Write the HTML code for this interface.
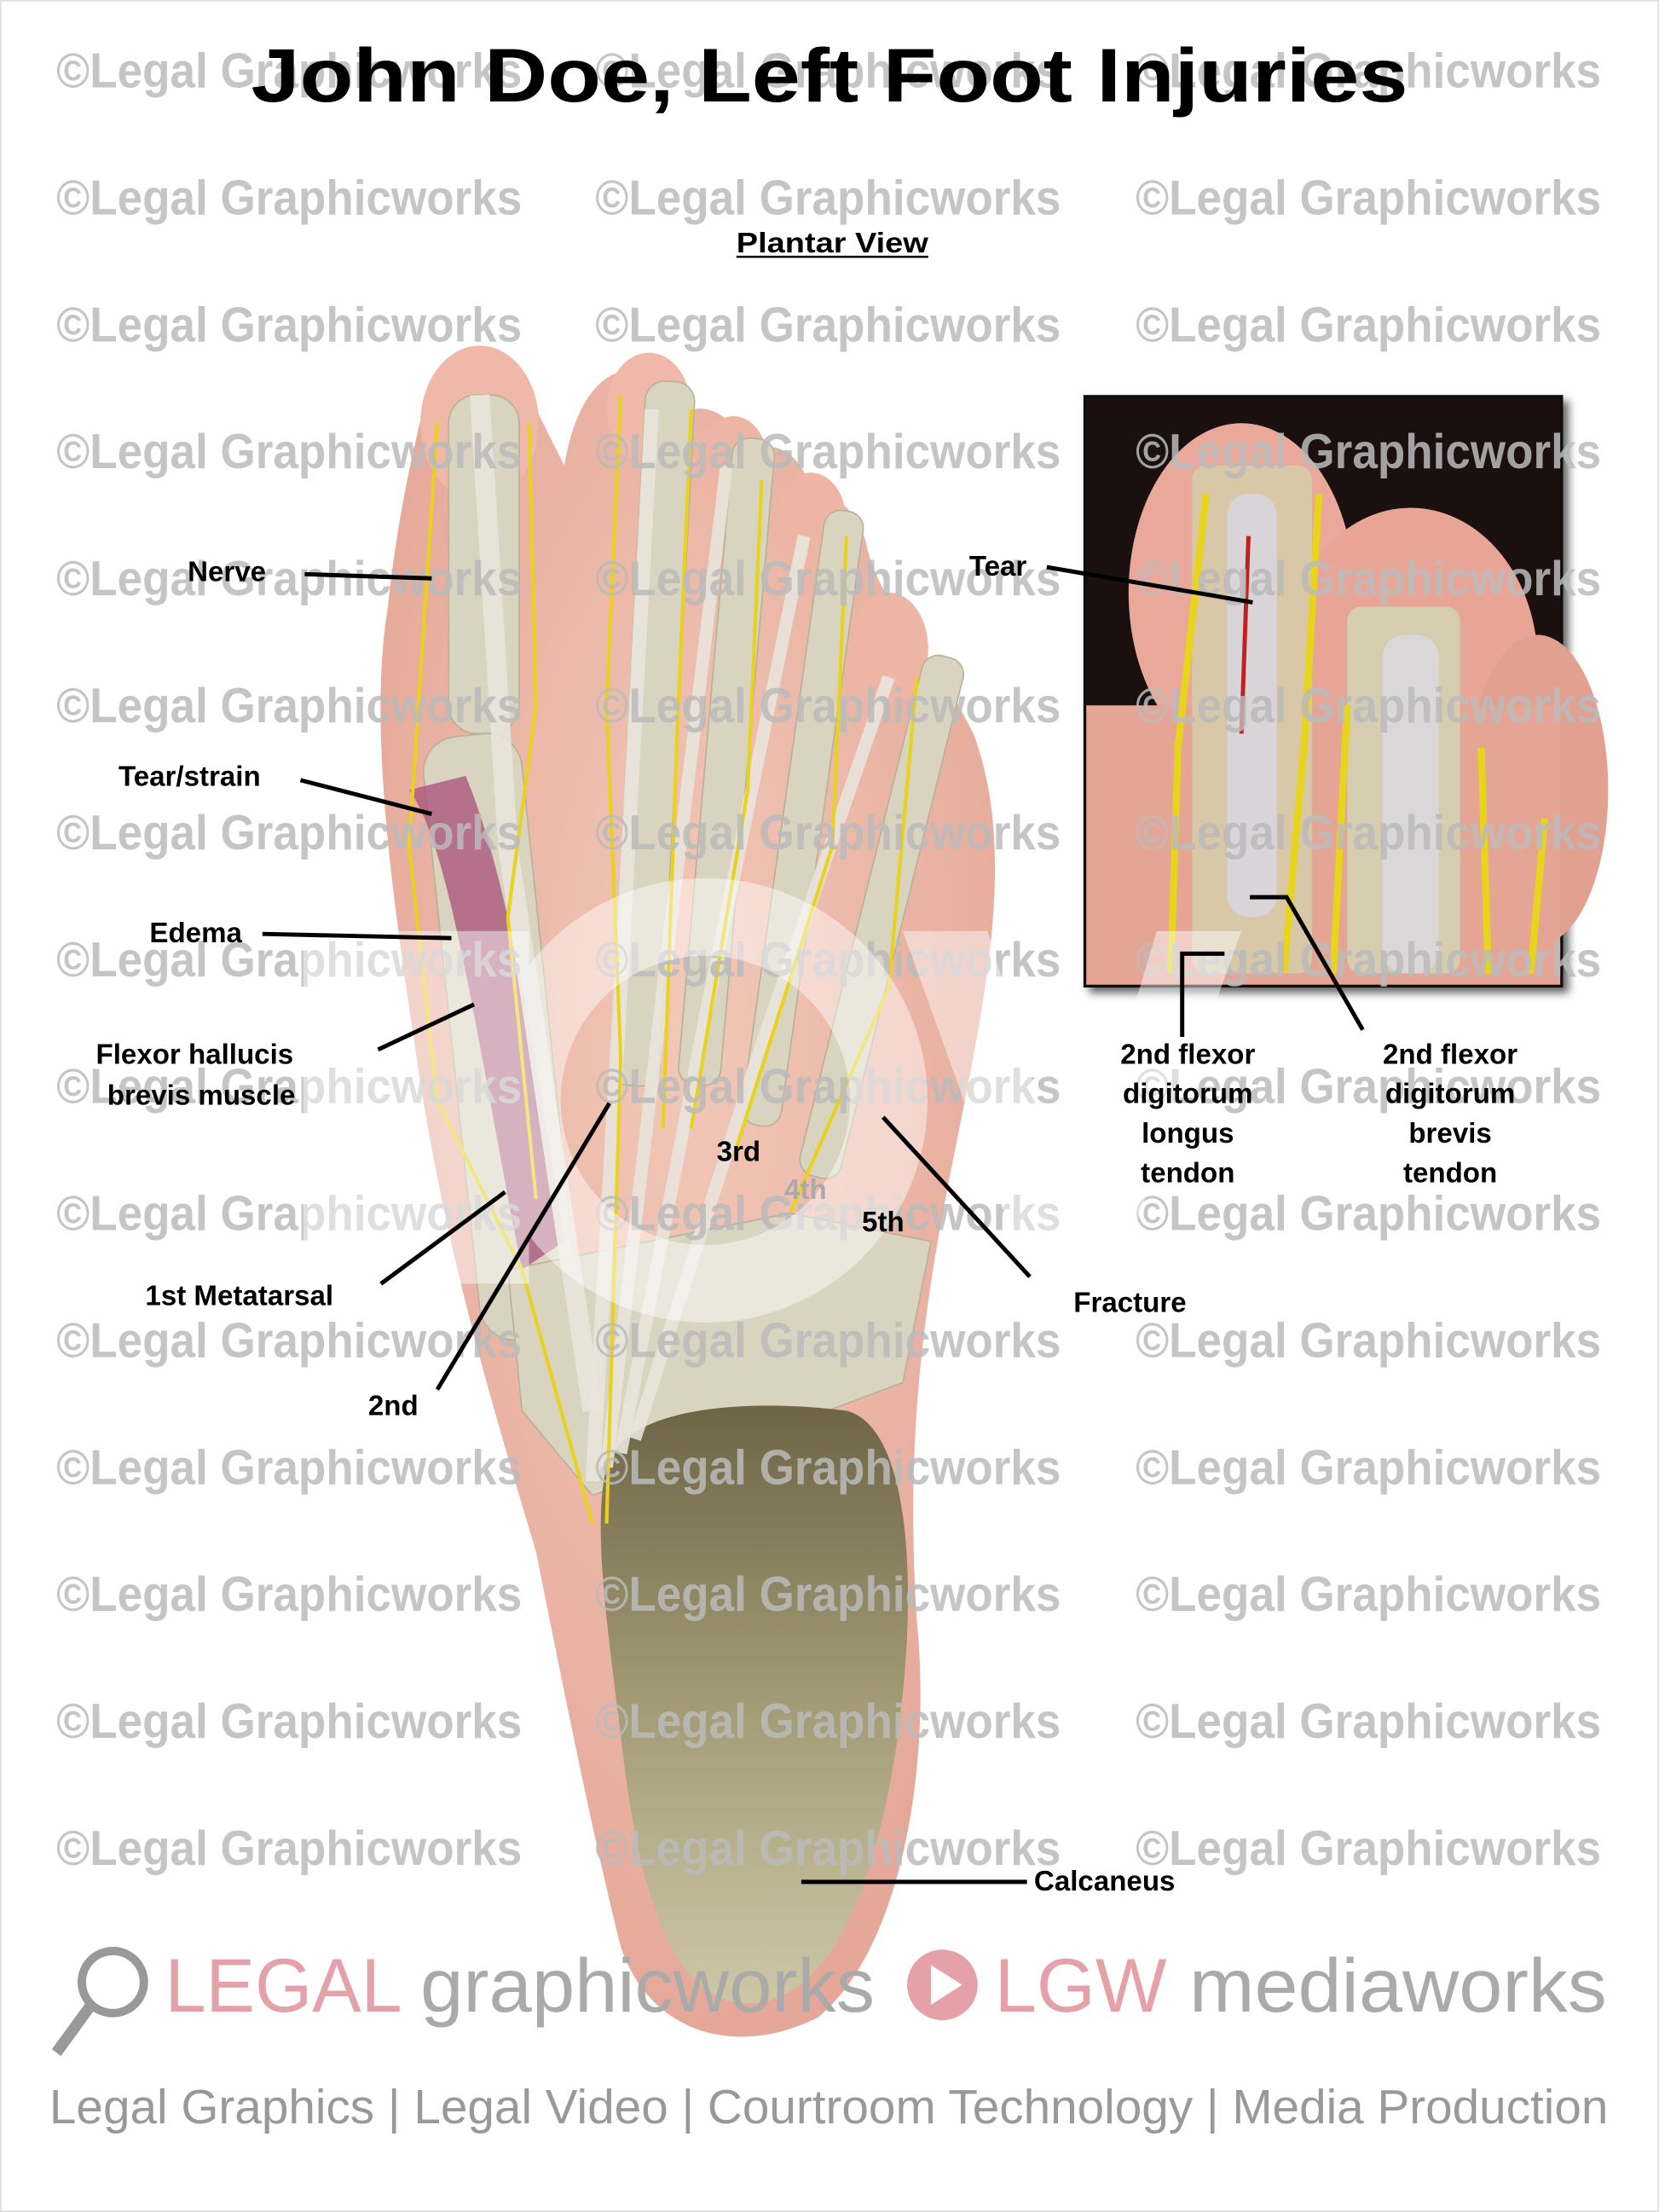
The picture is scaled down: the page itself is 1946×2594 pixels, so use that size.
<!DOCTYPE html>
<html><head><meta charset="utf-8"><style>
html,body{margin:0;padding:0;background:#fff;}
svg{display:block;}
</style></head><body>
<svg width="1946" height="2594" viewBox="0 0 1176 1568" preserveAspectRatio="none" xmlns="http://www.w3.org/2000/svg" font-family="Liberation Sans, sans-serif">
<defs>
<radialGradient id="skin" cx="50%" cy="40%" r="60%"><stop offset="0" stop-color="#f2c8b8"/><stop offset="1" stop-color="#e5a898"/></radialGradient>
<linearGradient id="calc" x1="0" y1="0" x2="0" y2="1"><stop offset="0" stop-color="#6e6546"/><stop offset="0.5" stop-color="#a39b75"/><stop offset="1" stop-color="#cdc7a6"/></linearGradient>
<filter id="sh"><feDropShadow dx="4" dy="4" stdDeviation="3" flood-opacity="0.6"/></filter>
</defs>
<rect width="1176" height="1568" fill="#fff"/>
<rect x="0.5" y="0.5" width="1175" height="1567" fill="none" stroke="#ddd"/>

<!-- foot -->
<path d="M300,290 C310,250 370,250 380,290 L400,330 C410,270 440,250 470,270 L480,300 C490,280 520,290 530,320 C545,310 570,320 575,350 C590,350 610,360 615,390 C630,440 660,460 690,520 C720,600 700,700 680,800 C660,900 640,1000 650,1150 C660,1250 640,1380 580,1430 C520,1460 460,1440 440,1380 C420,1300 400,1200 380,1100 C350,1000 320,900 300,780 C280,650 260,520 275,430 C280,380 290,330 300,290 Z" fill="url(#skin)"/>
<ellipse cx="340" cy="300" rx="42" ry="55" fill="#f0b8a8"/>
<ellipse cx="460" cy="290" rx="30" ry="40" fill="#f0b8a8"/>
<ellipse cx="520" cy="330" rx="25" ry="35" fill="#eeb5a5"/>
<ellipse cx="575" cy="370" rx="25" ry="35" fill="#eeb5a5"/>
<ellipse cx="630" cy="460" rx="28" ry="40" fill="#eeb5a5"/>
<!-- bones -->
<g fill="#d9d4bf" stroke="#b8b196" stroke-width="1">
<rect x="318" y="280" width="50" height="240" rx="20"/>
<rect x="445" y="270" width="35" height="500" rx="14" transform="rotate(3 462 520)"/>
<rect x="500" y="310" width="30" height="460" rx="12" transform="rotate(5 515 540)"/>
<rect x="555" y="360" width="28" height="440" rx="12" transform="rotate(8 569 580)"/>
<rect x="610" y="460" width="30" height="380" rx="12" transform="rotate(14 625 650)"/>
<rect x="320" y="520" width="70" height="430" rx="25" transform="rotate(-6 355 735)"/>
<path d="M360,900 L560,860 L660,880 L640,980 L560,1010 L420,1060 L370,1000 Z"/>
</g>
<path d="M430,1040 C440,1000 520,990 600,1000 C640,1010 650,1100 640,1200 C630,1300 600,1420 530,1420 C470,1420 450,1320 440,1230 C430,1150 420,1080 430,1040 Z" fill="url(#calc)"/>
<!-- muscles/tendons -->
<path d="M290,560 C320,600 340,750 370,900 L400,880 C380,750 360,620 330,550 Z" fill="#a8507a" opacity="0.75"/>
<path d="M340,280 L360,600 L420,1000" stroke="#e8e4dc" stroke-width="14" fill="none" opacity="0.9"/>
<path d="M462,290 L440,700 L420,1050" stroke="#e8e4dc" stroke-width="10" fill="none" opacity="0.9"/>
<path d="M515,330 L470,700 L430,1040" stroke="#e8e4dc" stroke-width="9" fill="none" opacity="0.9"/>
<path d="M570,380 L500,720 L440,1030" stroke="#e8e4dc" stroke-width="9" fill="none" opacity="0.9"/>
<path d="M630,480 L540,740 L450,1020" stroke="#e8e4dc" stroke-width="9" fill="none" opacity="0.9"/>
<!-- nerves -->
<g stroke="#e8d21c" stroke-width="2.5" fill="none">
<path d="M310,300 L300,450 L290,600 L310,780 L370,900 L420,1080"/>
<path d="M375,300 L380,500 L360,650 L380,850"/>
<path d="M440,280 L430,500 L440,750 L430,1080"/>
<path d="M490,290 L480,520 L470,800"/>
<path d="M540,340 L530,560 L490,800"/>
<path d="M600,380 L590,600 L520,820"/>
<path d="M650,480 L630,700 L560,860"/>
</g>

<!-- inset -->
<g filter="url(#sh)">
<rect x="768" y="280" width="340" height="420" fill="#111"/>
</g>
<rect x="770" y="282" width="336" height="416" fill="#1a1010"/>
<ellipse cx="880" cy="420" rx="80" ry="120" fill="#e9a899"/>
<ellipse cx="1000" cy="470" rx="90" ry="110" fill="#e8a596"/>
<ellipse cx="1090" cy="560" rx="50" ry="110" fill="#e2a090"/>
<rect x="770" y="500" width="336" height="198" fill="#e4a595"/>
<rect x="845" y="330" width="85" height="360" fill="#d8c8a8" rx="10"/>
<rect x="955" y="430" width="80" height="260" fill="#d6ccb0" rx="10"/>
<rect x="870" y="350" width="35" height="300" fill="#d9d4d8" rx="15"/>
<path d="M885,380 L880,520" stroke="#c02020" stroke-width="3"/>
<rect x="980" y="450" width="40" height="240" fill="#d9d7d8" rx="16"/>
<g stroke="#e8d41a" stroke-width="5" fill="none">
<path d="M855,350 L835,530 L830,690"/><path d="M935,350 L925,520 L910,690"/>
<path d="M955,500 L945,690"/><path d="M1050,530 L1055,690"/><path d="M1095,580 L1085,690"/>
</g>

<!-- watermark -->
<g font-size="35" fill="#bbbbbb" opacity="0.85" font-weight="bold" textLength="330" lengthAdjust="spacingAndGlyphs">
<text x="40" y="62" textLength="330" lengthAdjust="spacingAndGlyphs">©Legal Graphicworks</text><text x="422" y="62" textLength="330" lengthAdjust="spacingAndGlyphs">©Legal Graphicworks</text><text x="805" y="62" textLength="330" lengthAdjust="spacingAndGlyphs">©Legal Graphicworks</text>
<text x="40" y="152" textLength="330" lengthAdjust="spacingAndGlyphs">©Legal Graphicworks</text><text x="422" y="152" textLength="330" lengthAdjust="spacingAndGlyphs">©Legal Graphicworks</text><text x="805" y="152" textLength="330" lengthAdjust="spacingAndGlyphs">©Legal Graphicworks</text>
<text x="40" y="242" textLength="330" lengthAdjust="spacingAndGlyphs">©Legal Graphicworks</text><text x="422" y="242" textLength="330" lengthAdjust="spacingAndGlyphs">©Legal Graphicworks</text><text x="805" y="242" textLength="330" lengthAdjust="spacingAndGlyphs">©Legal Graphicworks</text>
<text x="40" y="332" textLength="330" lengthAdjust="spacingAndGlyphs">©Legal Graphicworks</text><text x="422" y="332" textLength="330" lengthAdjust="spacingAndGlyphs">©Legal Graphicworks</text><text x="805" y="332" textLength="330" lengthAdjust="spacingAndGlyphs">©Legal Graphicworks</text>
<text x="40" y="422" textLength="330" lengthAdjust="spacingAndGlyphs">©Legal Graphicworks</text><text x="422" y="422" textLength="330" lengthAdjust="spacingAndGlyphs">©Legal Graphicworks</text><text x="805" y="422" textLength="330" lengthAdjust="spacingAndGlyphs">©Legal Graphicworks</text>
<text x="40" y="512" textLength="330" lengthAdjust="spacingAndGlyphs">©Legal Graphicworks</text><text x="422" y="512" textLength="330" lengthAdjust="spacingAndGlyphs">©Legal Graphicworks</text><text x="805" y="512" textLength="330" lengthAdjust="spacingAndGlyphs">©Legal Graphicworks</text>
<text x="40" y="602" textLength="330" lengthAdjust="spacingAndGlyphs">©Legal Graphicworks</text><text x="422" y="602" textLength="330" lengthAdjust="spacingAndGlyphs">©Legal Graphicworks</text><text x="805" y="602" textLength="330" lengthAdjust="spacingAndGlyphs">©Legal Graphicworks</text>
<text x="40" y="692" textLength="330" lengthAdjust="spacingAndGlyphs">©Legal Graphicworks</text><text x="422" y="692" textLength="330" lengthAdjust="spacingAndGlyphs">©Legal Graphicworks</text><text x="805" y="692" textLength="330" lengthAdjust="spacingAndGlyphs">©Legal Graphicworks</text>
<text x="40" y="782" textLength="330" lengthAdjust="spacingAndGlyphs">©Legal Graphicworks</text><text x="422" y="782" textLength="330" lengthAdjust="spacingAndGlyphs">©Legal Graphicworks</text><text x="805" y="782" textLength="330" lengthAdjust="spacingAndGlyphs">©Legal Graphicworks</text>
<text x="40" y="872" textLength="330" lengthAdjust="spacingAndGlyphs">©Legal Graphicworks</text><text x="422" y="872" textLength="330" lengthAdjust="spacingAndGlyphs">©Legal Graphicworks</text><text x="805" y="872" textLength="330" lengthAdjust="spacingAndGlyphs">©Legal Graphicworks</text>
<text x="40" y="962" textLength="330" lengthAdjust="spacingAndGlyphs">©Legal Graphicworks</text><text x="422" y="962" textLength="330" lengthAdjust="spacingAndGlyphs">©Legal Graphicworks</text><text x="805" y="962" textLength="330" lengthAdjust="spacingAndGlyphs">©Legal Graphicworks</text>
<text x="40" y="1052" textLength="330" lengthAdjust="spacingAndGlyphs">©Legal Graphicworks</text><text x="422" y="1052" textLength="330" lengthAdjust="spacingAndGlyphs">©Legal Graphicworks</text><text x="805" y="1052" textLength="330" lengthAdjust="spacingAndGlyphs">©Legal Graphicworks</text>
<text x="40" y="1142" textLength="330" lengthAdjust="spacingAndGlyphs">©Legal Graphicworks</text><text x="422" y="1142" textLength="330" lengthAdjust="spacingAndGlyphs">©Legal Graphicworks</text><text x="805" y="1142" textLength="330" lengthAdjust="spacingAndGlyphs">©Legal Graphicworks</text>
<text x="40" y="1232" textLength="330" lengthAdjust="spacingAndGlyphs">©Legal Graphicworks</text><text x="422" y="1232" textLength="330" lengthAdjust="spacingAndGlyphs">©Legal Graphicworks</text><text x="805" y="1232" textLength="330" lengthAdjust="spacingAndGlyphs">©Legal Graphicworks</text>
<text x="40" y="1322" textLength="330" lengthAdjust="spacingAndGlyphs">©Legal Graphicworks</text><text x="422" y="1322" textLength="330" lengthAdjust="spacingAndGlyphs">©Legal Graphicworks</text><text x="805" y="1322" textLength="330" lengthAdjust="spacingAndGlyphs">©Legal Graphicworks</text>
</g>
<!-- big LGW watermark -->
<g fill="#fff" opacity="0.45">
<rect x="215" y="660" width="160" height="250"/>
<circle cx="500" cy="780" r="130" fill="none" stroke="#fff" stroke-width="55"/>
<path d="M640,660 L700,660 L760,860 L820,660 L880,660 L790,910 L730,910 Z"/>
</g>

<!-- title -->
<text x="178" y="72" font-size="54" font-weight="bold" fill="#000" textLength="820" lengthAdjust="spacingAndGlyphs">John Doe, Left Foot Injuries</text>
<text x="522" y="179" font-size="20" font-weight="bold" fill="#000" textLength="136" lengthAdjust="spacingAndGlyphs">Plantar View</text>
<line x1="522" y1="182" x2="658" y2="182" stroke="#000" stroke-width="1.5"/>

<!-- labels -->
<g font-size="20" font-weight="bold" fill="#000">
<text x="133" y="412">Nerve</text>
<text x="84" y="557">Tear/strain</text>
<text x="106" y="668">Edema</text>
<text x="68" y="754">Flexor hallucis</text>
<text x="76" y="783">brevis muscle</text>
<text x="103" y="925">1st Metatarsal</text>
<text x="261" y="1003">2nd</text>
<text x="508" y="823">3rd</text>
<text x="556" y="850" fill="#aaa">4th</text>
<text x="611" y="873">5th</text>
<text x="687" y="408">Tear</text>
<text x="761" y="930">Fracture</text>
<text x="733" y="1340">Calcaneus</text>
<text x="842" y="754" text-anchor="middle">2nd flexor</text>
<text x="842" y="782" text-anchor="middle">digitorum</text>
<text x="842" y="810" text-anchor="middle">longus</text>
<text x="842" y="838" text-anchor="middle">tendon</text>
<text x="1028" y="754" text-anchor="middle">2nd flexor</text>
<text x="1028" y="782" text-anchor="middle">digitorum</text>
<text x="1028" y="810" text-anchor="middle">brevis</text>
<text x="1028" y="838" text-anchor="middle">tendon</text>
</g>
<g stroke="#000" stroke-width="3" fill="none">
<line x1="216" y1="407" x2="306" y2="410"/>
<line x1="213" y1="553" x2="306" y2="577"/>
<line x1="186" y1="662" x2="320" y2="665"/>
<line x1="268" y1="744" x2="336" y2="712"/>
<line x1="270" y1="910" x2="358" y2="845"/>
<line x1="310" y1="985" x2="432" y2="782"/>
<line x1="742" y1="402" x2="888" y2="427"/>
<line x1="730" y1="905" x2="626" y2="792"/>
<line x1="568" y1="1334" x2="728" y2="1334"/>
<polyline points="838,735 838,676 868,676"/>
<polyline points="966,730 912,636 886,636"/>
</g>

<!-- footer logos -->
<g>
<circle cx="80" cy="1405" r="22" fill="none" stroke="#999" stroke-width="6"/>
<line x1="64" y1="1422" x2="40" y2="1455" stroke="#999" stroke-width="8"/>
<text x="117" y="1426" font-size="54" fill="#e4a2a8" textLength="168" lengthAdjust="spacingAndGlyphs">LEGAL</text>
<text x="298" y="1426" font-size="54" fill="#aaa" textLength="322" lengthAdjust="spacingAndGlyphs">graphicworks</text>
<circle cx="668" cy="1407" r="25" fill="#e4a2a8"/>
<path d="M660,1393 L682,1407 L660,1421 Z" fill="#fff"/>
<text x="705" y="1426" font-size="54" fill="#e4a2a8" textLength="122" lengthAdjust="spacingAndGlyphs">LGW</text>
<text x="843" y="1426" font-size="54" fill="#aaa" textLength="296" lengthAdjust="spacingAndGlyphs">mediaworks</text>
<text x="35" y="1505" font-size="34" fill="#999" textLength="1105" lengthAdjust="spacingAndGlyphs">Legal Graphics | Legal Video | Courtroom Technology | Media Production</text>
</g>
</svg>
</body></html>
